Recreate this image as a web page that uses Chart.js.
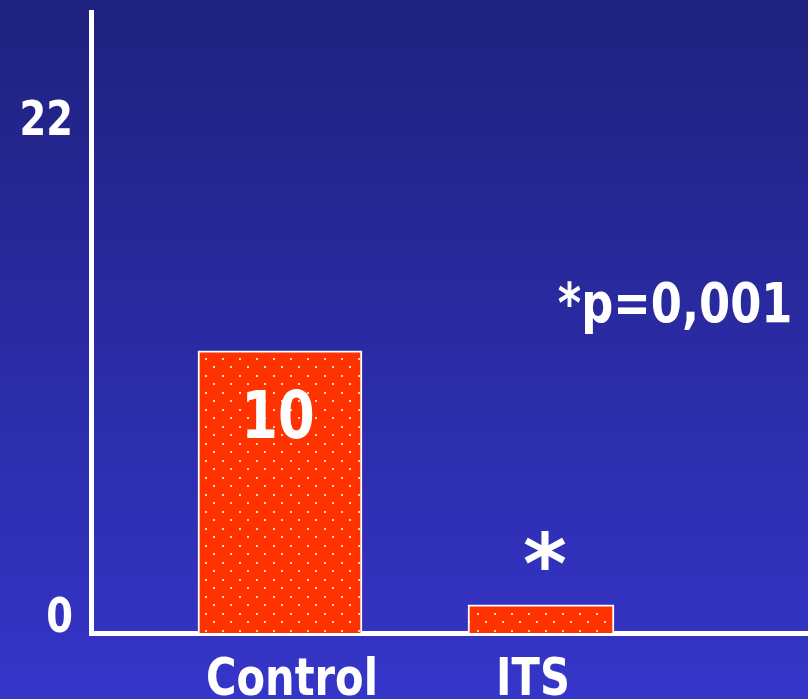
<!DOCTYPE html>
<html>
<head>
<meta charset="utf-8">
<script src="https://cdn.jsdelivr.net/npm/chart.js@4.4.1/dist/chart.umd.min.js"></script>
<style>
  html, body { margin: 0; padding: 0; background: #2a2aa2; }
  canvas { display: block; }
</style>
</head>
<body>
<canvas id="chart" width="808" height="699"></canvas>
<script>
const groups = ['Control', 'ITS'];
const groupPositions = [1, 2];
const values = [10, 1];
const yTickValues = [0, 22];
const yTickLabels = ['0', '22'];
const barLabel = '10';
const starLabel = '*';
const pLabel = '*p=0,001';

const FONT = '"DejaVu Sans", Verdana, sans-serif';
const canvas = document.getElementById('chart');
const ctx = canvas.getContext('2d');

function dotPattern() {
    const c = document.createElement('canvas');
    c.width = 17;
    c.height = 17;
    const p = c.getContext('2d');
    p.fillStyle = '#ff3300';
    p.fillRect(0, 0, 17, 17);
    p.fillStyle = '#ffd2c4';
    p.fillRect(1, 1, 2, 2);
    p.fillRect(9, 9, 2, 2);
    return ctx.createPattern(c, 'repeat');
}

// squished bold text, the slide text is narrower than normal
function squishText(c, text, x, y, size, align, sx) {
    c.save();
    c.font = 'bold ' + size + 'px ' + FONT;
    c.fillStyle = '#ffffff';
    c.textBaseline = 'middle';
    c.textAlign = align || 'center';
    c.translate(x, y);
    c.scale(sx || 0.8, 1);
    c.fillText(text, 0, 0);
    c.restore();
}

const background = {
    id: 'background',
    beforeDraw(chart) {
        const c = chart.ctx;
        const g = c.createLinearGradient(0, 0, 0, chart.height);
        g.addColorStop(0, '#1f217e');
        g.addColorStop(1, '#3535c9');
        c.save();
        c.fillStyle = g;
        c.fillRect(0, 0, chart.width, chart.height);
        c.restore();
    }
};

const labels = {
    id: 'labels',
    afterDraw(chart) {
        const c = chart.ctx;
        const xs = chart.scales.x;
        const ys = chart.scales.y;
        // y tick labels sit off their ticks on the slide
        const shift = [-13, 111];
        yTickValues.forEach((v, i) => {
            squishText(c, yTickLabels[i], 73, ys.getPixelForValue(v) + shift[i], 48, 'right');
        });
        // category labels
        groupPositions.forEach((v, i) => {
            squishText(c, groups[i], xs.getPixelForValue(v) + (i === 0 ? 12 : -8), ys.bottom + 48, 52);
        });
        squishText(c, barLabel, xs.getPixelForValue(groupPositions[0]) - 2, ys.getPixelForValue(7.5), 66);
        squishText(c, starLabel, xs.getPixelForValue(groupPositions[1]) + 4, ys.getPixelForValue(2.2), 84, 'center', 1);
        squishText(c, pLabel, xs.getPixelForValue(2.514), ys.getPixelForValue(11.55), 56);
    }
};

const pattern = dotPattern();

new Chart(ctx, {
    type: 'bar',
    data: {
        datasets: [{
            label: groups[0],
            data: [{ x: groupPositions[0], y: values[0] }],
            backgroundColor: pattern,
            borderColor: '#ffffff',
            borderWidth: 2,
            barThickness: 164
        }, {
            label: groups[1],
            data: [{ x: groupPositions[1], y: values[1] }],
            backgroundColor: pattern,
            borderColor: '#ffffff',
            borderWidth: 2,
            barThickness: 146
        }]
    },
    options: {
        responsive: false,
        animation: false,
        layout: {
            padding: { left: 91, right: 0, top: 12, bottom: 66 }
        },
        plugins: {
            legend: { display: false },
            tooltip: { enabled: false }
        },
        datasets: {
            bar: { grouped: false }
        },
        scales: {
            x: {
                type: 'linear',
                offset: false,
                min: 0.276,
                max: 3.023,
                grid: { display: false, drawTicks: false, offset: false },
                border: { color: '#ffffff', width: 5 },
                ticks: { display: false },
                afterBuildTicks: (scale) => {
                    scale.ticks = groupPositions.map(v => ({ value: v }));
                }
            },
            y: {
                min: 0,
                max: 22,
                grid: { display: false, drawTicks: false },
                border: { color: '#ffffff', width: 5 },
                ticks: { display: false },
                afterBuildTicks: (scale) => {
                    scale.ticks = yTickValues.map(v => ({ value: v }));
                }
            }
        }
    },
    plugins: [background, labels]
});
</script>
</body>
</html>
